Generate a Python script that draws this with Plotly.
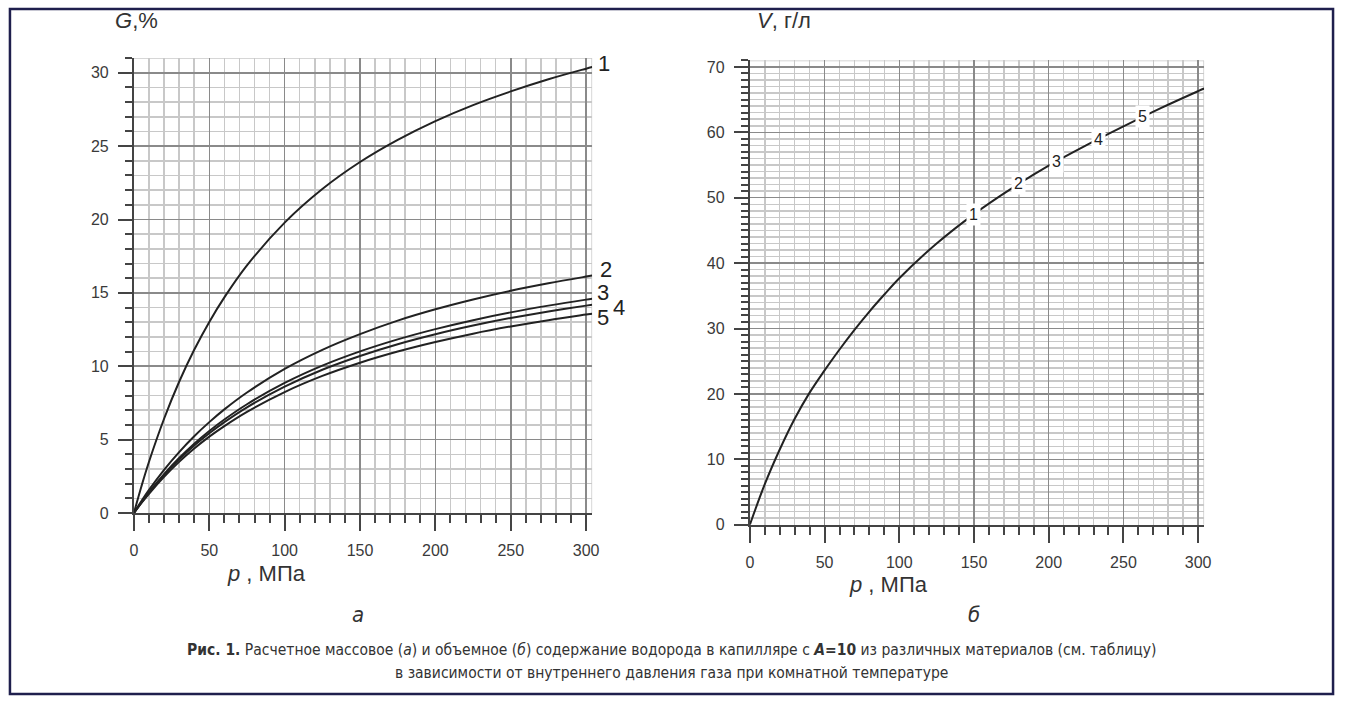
import numpy as np
import plotly.graph_objects as go

W, H = 1346, 709

# ---------------- data ----------------
P_G = [0, 5, 10, 20, 30, 40, 50, 60, 75, 100, 125, 150, 175, 200, 225, 250, 275, 300, 304]
G1 = [0, 1.82, 3.49, 6.42, 8.94, 11.12, 13.02, 14.69, 16.87, 19.79, 22.08, 23.92, 25.43, 26.71, 27.80, 28.73, 29.56, 30.28, 30.39]
G2 = [0, 0.81, 1.57, 2.94, 4.15, 5.23, 6.19, 7.06, 8.21, 9.82, 11.12, 12.19, 13.11, 13.88, 14.55, 15.14, 15.65, 16.11, 16.18]
G3 = [0, 0.73, 1.41, 2.65, 3.74, 4.72, 5.59, 6.37, 7.41, 8.86, 10.04, 11.01, 11.83, 12.53, 13.14, 13.67, 14.13, 14.54, 14.60]
G4 = [0, 0.71, 1.37, 2.58, 3.64, 4.59, 5.43, 6.19, 7.20, 8.61, 9.76, 10.70, 11.50, 12.18, 12.77, 13.29, 13.73, 14.13, 14.19]
G5 = [0, 0.68, 1.31, 2.46, 3.48, 4.39, 5.20, 5.92, 6.89, 8.24, 9.34, 10.24, 11.00, 11.65, 12.22, 12.71, 13.14, 13.52, 13.58]
G_LABELS = ["1", "2", "3", "4", "5"]
G_LABEL_POS = [(312, 30.6), (313, 16.6), (311, 15.0), (322, 14.0), (311, 13.3)]

P_V = [0, 10, 20, 30, 40, 50, 60, 70, 80, 90, 100, 125, 150, 175, 200, 225, 250, 275, 300, 304]
V = [0, 6.2, 11.5, 16.2, 20.2, 23.6, 26.8, 29.8, 32.6, 35.2, 37.7, 43.0, 47.5, 51.4, 54.9, 58.0, 60.9, 63.7, 66.3, 66.7]
V_LABELS = ["1", "2", "3", "4", "5"]
V_LABEL_P = [150, 180, 205, 233, 263]

X_TICKS = [0, 50, 100, 150, 200, 250, 300]
G_TICKS = [0, 5, 10, 15, 20, 25, 30]
V_TICKS = [0, 10, 20, 30, 40, 50, 60, 70]
X_MAX = 304

CAPTION1 = ("<b>Рис. 1.</b> Расчетное массовое (<i>а</i>) и объемное (<i>б</i>) содержание водорода "
            "в капилляре с <b><i>A</i>=10</b> из различных материалов (см. таблицу)")
CAPTION2 = "в зависимости от внутреннего давления газа при комнатной температуре"

# ---------------- helpers ----------------
def px(x):
    return x / W

def py(y):
    return 1 - y / H

FONT = "Liberation Sans, Arial, Helvetica, sans-serif"
NARROW = "Liberation Sans Narrow, Arial Narrow, DejaVu Sans Condensed, sans-serif"
LINE = "#222222"
AX = "#444444"
MAJ = "#8a8a8a"
MIN = "#c8c8c8"

fig = go.Figure()

for g in [G1, G2, G3, G4, G5]:
    fig.add_trace(go.Scatter(x=P_G, y=g, mode="lines", line=dict(color=LINE, width=2, shape="spline", smoothing=1.0),
                             xaxis="x", yaxis="y", showlegend=False, hoverinfo="skip"))

fig.add_trace(go.Scatter(x=P_V, y=V, mode="lines", line=dict(color=LINE, width=2, shape="spline", smoothing=1.0),
                         xaxis="x2", yaxis="y2", showlegend=False, hoverinfo="skip"))


def xaxis_cfg(domain, anchor):
    return dict(domain=domain, anchor=anchor, range=[0, X_MAX], tickvals=X_TICKS,
                ticks="outside", ticklen=16, tickwidth=2, tickcolor=AX,
                showline=True, linecolor=AX, linewidth=2, zeroline=False,
                showgrid=True, gridcolor=MAJ, gridwidth=1.5,
                tickfont=dict(family=FONT, size=16, color="#3a3a3a"), ticklabelstandoff=6,
                minor=dict(dtick=10, tick0=0, ticks="outside", ticklen=8, tickwidth=2, tickcolor=AX,
                           showgrid=True, gridcolor=MIN, gridwidth=1.5),
                fixedrange=True)


def yaxis_cfg(domain, anchor, rng, ticks):
    return dict(domain=domain, anchor=anchor, range=rng, tickvals=ticks,
                ticks="outside", ticklen=14, tickwidth=2, tickcolor=AX,
                showline=True, linecolor=AX, linewidth=2, zeroline=False,
                showgrid=True, gridcolor=MAJ, gridwidth=1.5,
                tickfont=dict(family=FONT, size=16, color="#3a3a3a"), ticklabelstandoff=6,
                minor=dict(dtick=1, tick0=0, ticks="outside", ticklen=7, tickwidth=2, tickcolor=AX,
                           showgrid=True, gridcolor=MIN, gridwidth=1.5),
                fixedrange=True)


fig.update_layout(
    width=W, height=H, autosize=False,
    margin=dict(l=0, r=0, t=0, b=0),
    paper_bgcolor="white", plot_bgcolor="white",
    xaxis=xaxis_cfg([px(131), px(593)], "y"),
    yaxis=yaxis_cfg([py(519), py(57)], "x", [0, 31], G_TICKS),
    xaxis2=xaxis_cfg([px(752), px(1210)], "y2"),
    yaxis2=yaxis_cfg([py(531), py(59.3)], "x2", [0, 71], V_TICKS),
    hovermode=False,
)

# right-edge / top frame lines in light gray
for xa, ya, top in [("x", "y", 31), ("x2", "y2", 71)]:
    fig.add_shape(type="line", xref=xa, yref=ya, x0=X_MAX, x1=X_MAX, y0=0, y1=top,
                  line=dict(color=MIN, width=1.5), layer="below")
    fig.add_shape(type="line", xref=xa, yref=ya, x0=0, x1=X_MAX, y0=top, y1=top,
                  line=dict(color=MIN, width=1.5), layer="below")

annotations = []
# curve labels on the left chart (placed to the right of the plot area)
for t, (xv, yv) in zip(G_LABELS, G_LABEL_POS):
    annotations.append(dict(x=xv / X_MAX, y=yv, xref="x domain", yref="y", text=t, showarrow=False,
                            font=dict(family=FONT, size=22, color=LINE), xanchor="center", yanchor="middle"))
# curve labels on the right chart (white boxes breaking the curve)
for t, pv in zip(V_LABELS, V_LABEL_P):
    vv = float(np.interp(pv, P_V, V))
    annotations.append(dict(x=pv, y=vv, xref="x2", yref="y2", text=t, showarrow=False,
                            font=dict(family=FONT, size=16, color=LINE), bgcolor="white",
                            borderpad=2, xanchor="center", yanchor="middle"))

# axis titles
annotations += [
    dict(x=px(110), y=py(19), xref="paper", yref="paper", text="<i>G</i>,%", showarrow=False,
         font=dict(family=FONT, size=22, color="#333"), xanchor="left", yanchor="middle"),
    dict(x=px(757), y=py(19), xref="paper", yref="paper", text="<i>V</i>, г/л", showarrow=False,
         font=dict(family=FONT, size=22, color="#333"), xanchor="left", yanchor="middle"),
    dict(x=px(265), y=py(580), xref="paper", yref="paper", text="<i>p</i> , МПа", showarrow=False,
         font=dict(family=FONT, size=22, color="#333"), xanchor="center", yanchor="middle"),
    dict(x=px(892), y=py(592), xref="paper", yref="paper", text="<i>p</i> , МПа", showarrow=False,
         font=dict(family=FONT, size=22, color="#333"), xanchor="center", yanchor="middle"),
    dict(x=px(357), y=py(622), xref="paper", yref="paper", text="<i>а</i>", showarrow=False,
         font=dict(family=NARROW, size=22, color="#333"), xanchor="center", yanchor="middle"),
    dict(x=px(978), y=py(622), xref="paper", yref="paper", text="<i>б</i>", showarrow=False,
         font=dict(family=NARROW, size=22, color="#333"), xanchor="center", yanchor="middle"),
    dict(x=px(673), y=py(658), xref="paper", yref="paper", text=CAPTION1, showarrow=False,
         font=dict(family=NARROW, size=15.5, color="#333"), xanchor="center", yanchor="middle"),
    dict(x=px(673), y=py(682), xref="paper", yref="paper", text=CAPTION2, showarrow=False,
         font=dict(family=NARROW, size=15.5, color="#333"), xanchor="center", yanchor="middle"),
]
fig.update_layout(annotations=annotations)

# outer navy frame
fig.add_shape(type="rect", xref="paper", yref="paper", x0=px(6), x1=px(1340), y0=py(703), y1=py(7),
              line=dict(color="#1f1f4d", width=2.5), fillcolor="rgba(0,0,0,0)", layer="above")

POST = """
(function(){
  var de = document.documentElement, b = document.body;
  de.style.margin = '0'; de.style.padding = '0'; de.style.overflow = 'hidden';
  b.style.margin = '0'; b.style.padding = '0'; b.style.overflow = 'hidden';
})();
"""

fig.write_html("out.html", config={"displayModeBar": False, "staticPlot": True}, post_script=POST)
